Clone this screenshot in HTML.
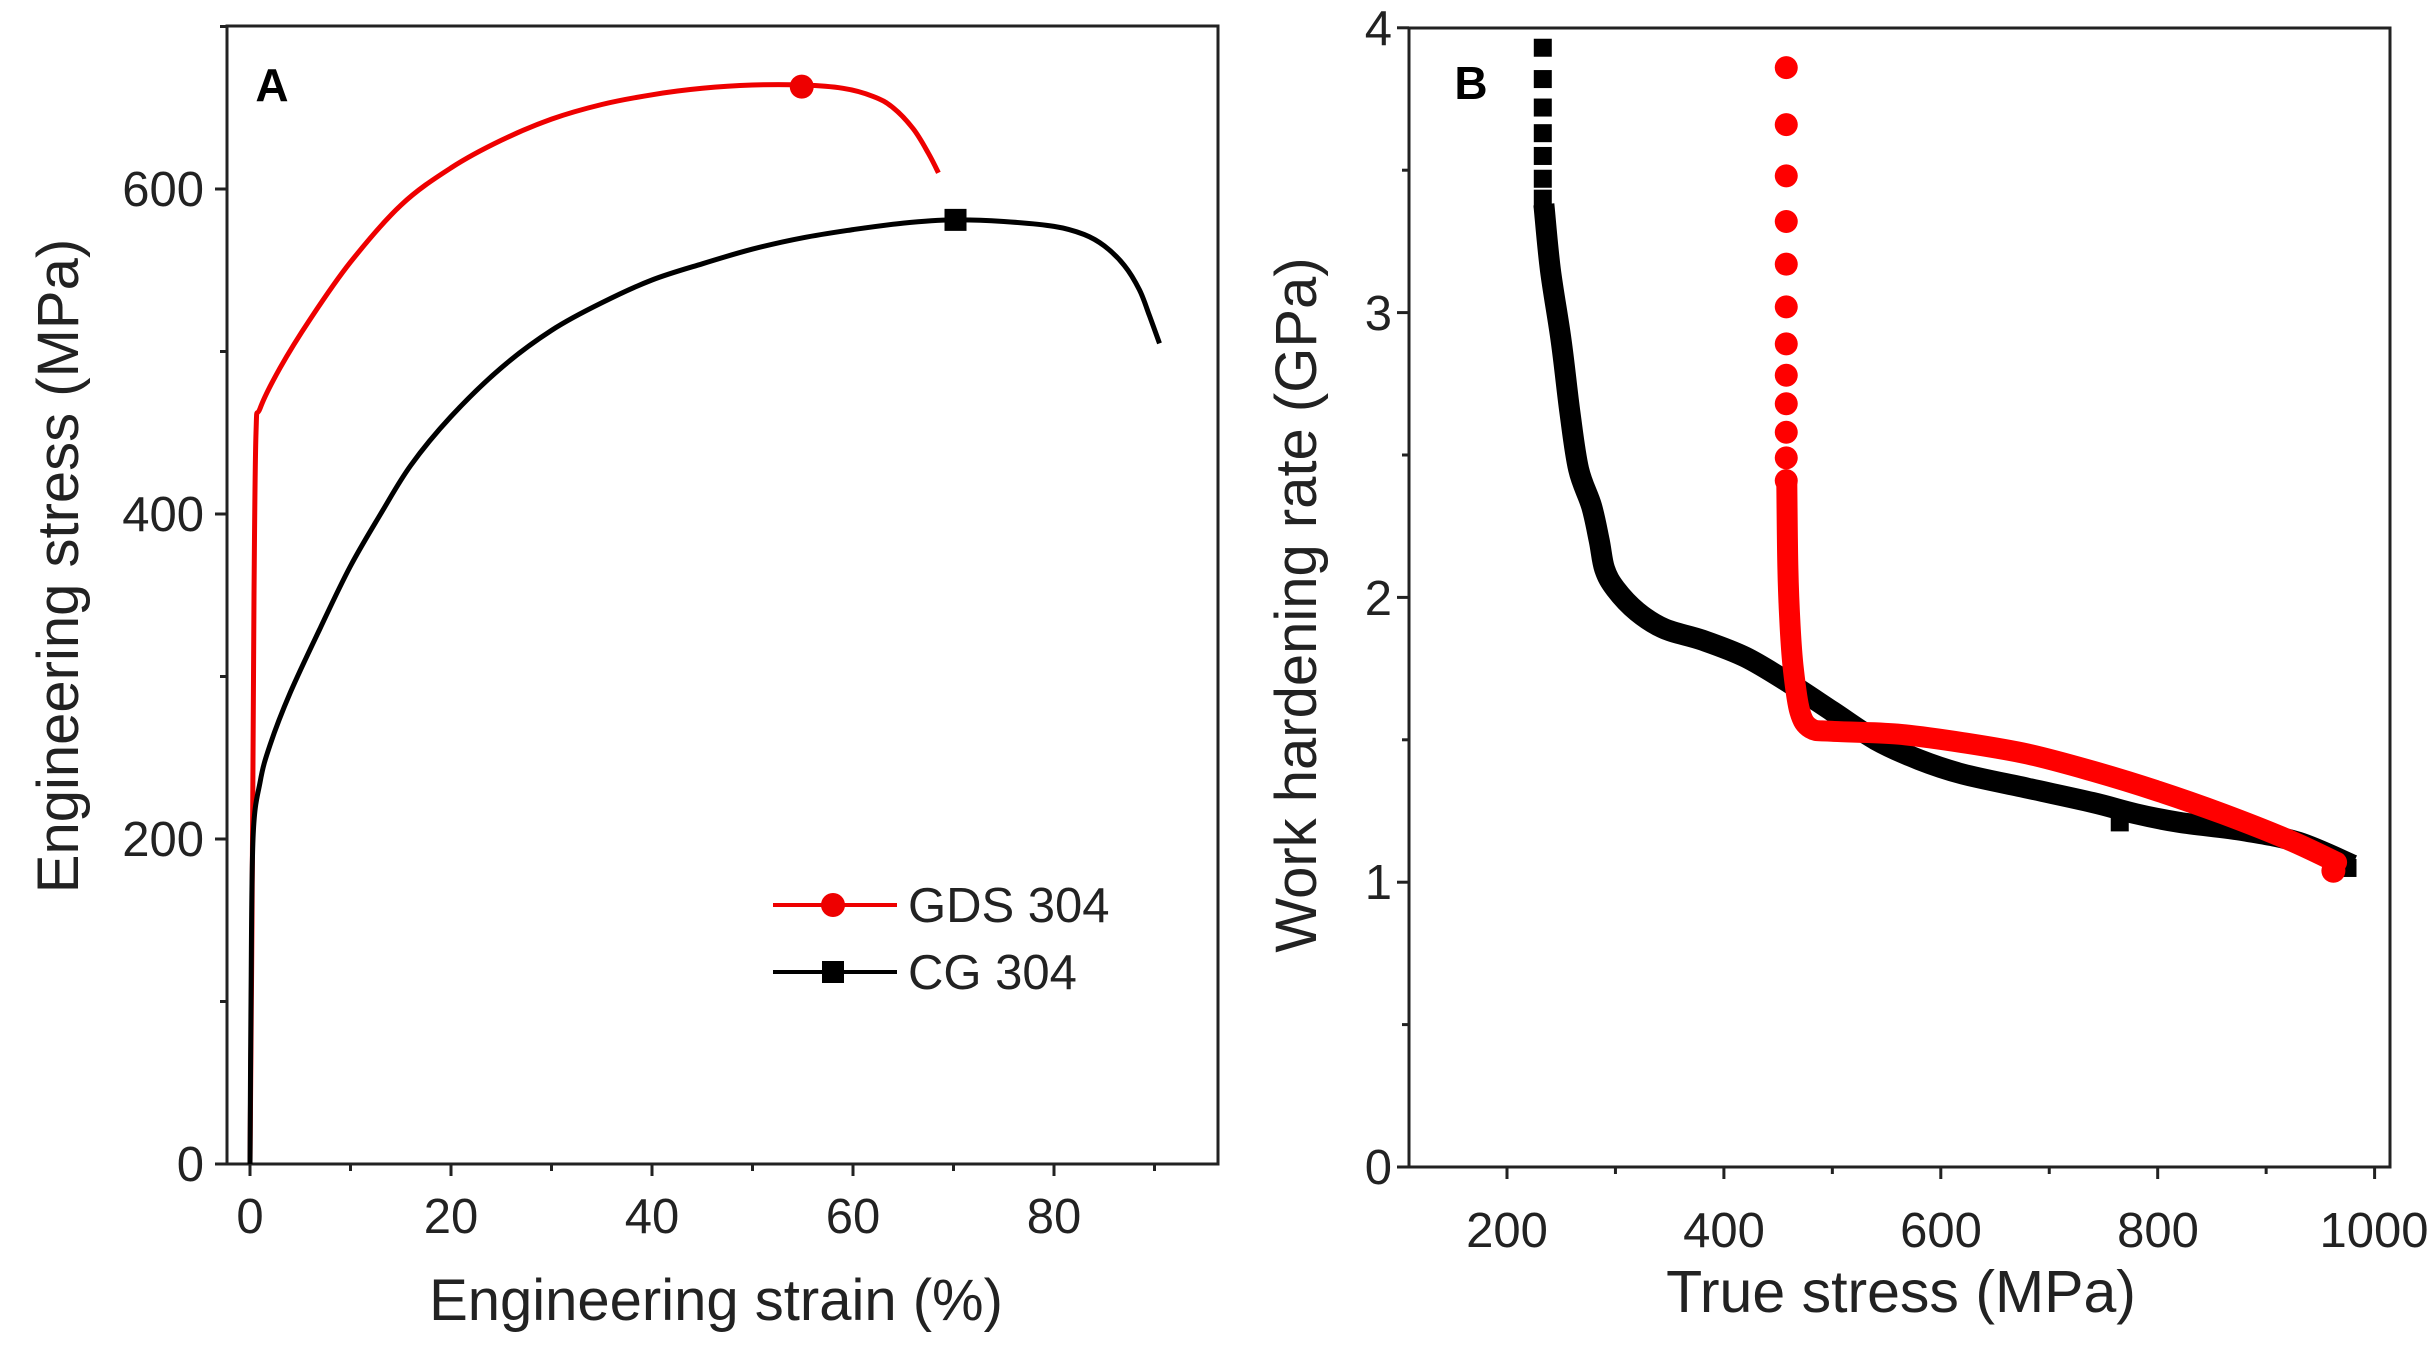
<!DOCTYPE html>
<html><head><meta charset="utf-8"><style>
html,body{margin:0;padding:0;background:#fff}
svg{display:block}
text{font-family:"Liberation Sans",Arial,sans-serif;fill:#222}
</style></head><body>
<svg id="s" width="2433" height="1355" viewBox="0 0 2433 1355" xmlns="http://www.w3.org/2000/svg">
<g id="g"></g>
<!-- Panel A text -->
<text x="272" y="101" font-size="46" font-weight="bold" text-anchor="middle" style="fill:#000">A</text>
<g font-size="49" text-anchor="end">
<text x="204" y="1181">0</text>
<text x="204" y="856">200</text>
<text x="204" y="531">400</text>
<text x="204" y="206">600</text>
</g>
<g font-size="49" text-anchor="middle">
<text x="250" y="1233">0</text>
<text x="451" y="1233">20</text>
<text x="652" y="1233">40</text>
<text x="853" y="1233">60</text>
<text x="1054" y="1233">80</text>
</g>
<text x="716" y="1320" font-size="58" text-anchor="middle">Engineering strain (%)</text>
<text transform="translate(78,566) rotate(-90)" font-size="58" text-anchor="middle">Engineering stress (MPa)</text>
<line x1="773" y1="905" x2="897" y2="905" stroke="#e00" stroke-width="4"/>
<circle cx="833" cy="905" r="12" fill="#e00"/>
<line x1="773" y1="972" x2="897" y2="972" stroke="#000" stroke-width="4"/>
<rect x="822" y="961" width="22" height="22" fill="#000"/>
<text x="908" y="922" font-size="49">GDS 304</text>
<text x="908" y="989" font-size="49">CG 304</text>
<!-- Panel B text -->
<text x="1471" y="99" font-size="46" font-weight="bold" text-anchor="middle" style="fill:#000">B</text>
<g font-size="49" text-anchor="end">
<text x="1392" y="1184">0</text>
<text x="1392" y="899">1</text>
<text x="1392" y="615">2</text>
<text x="1392" y="330">3</text>
<text x="1392" y="45">4</text>
</g>
<g font-size="49" text-anchor="middle">
<text x="1507" y="1247">200</text>
<text x="1724" y="1247">400</text>
<text x="1941" y="1247">600</text>
<text x="2158" y="1247">800</text>
<text x="2374" y="1247">1000</text>
</g>
<text x="1901" y="1312" font-size="59" text-anchor="middle">True stress (MPa)</text>
<text transform="translate(1316,605) rotate(-90)" font-size="58" text-anchor="middle">Work hardening rate (GPa)</text>
</svg>
<script>
var g=document.getElementById('g'),NS='http://www.w3.org/2000/svg';
function el(t,a){var e=document.createElementNS(NS,t);for(var k in a)e.setAttribute(k,a[k]);g.appendChild(e);return e;}
el('rect',{x:227,y:26,width:991,height:1138,fill:'none',stroke:'#222','stroke-width':3});
var AX=function(s){return 250+s*10.05},AY=function(v){return 1164-v*1.625};
for(var s=0;s<=90;s+=10){el('line',{x1:AX(s),y1:1164,x2:AX(s),y2:1164+(s%20==0?12:7),stroke:'#222','stroke-width':3});}
for(var v=0;v<=700;v+=100){el('line',{x1:227,y1:AY(v),x2:227-(v%200==0?12:7),y2:AY(v),stroke:'#222','stroke-width':3});}
function pts(arr,fx,fy){return arr.map(function(p){return fx(p[0]).toFixed(1)+','+fy(p[1]).toFixed(1)}).join(' ')}
function smooth(arr,fx,fy){var p=arr.map(function(a){return [fx(a[0]),fy(a[1])]});var d='M'+p[0][0]+','+p[0][1];
for(var i=0;i<p.length-1;i++){var p0=p[i-1]||p[i],p1=p[i],p2=p[i+1],p3=p[i+2]||p2;
d+=' C'+(p1[0]+(p2[0]-p0[0])/6).toFixed(1)+','+(p1[1]+(p2[1]-p0[1])/6).toFixed(1)+' '+(p2[0]-(p3[0]-p1[0])/6).toFixed(1)+','+(p2[1]-(p3[1]-p1[1])/6).toFixed(1)+' '+p2[0].toFixed(1)+','+p2[1].toFixed(1);}return d;}
var red=[[0,0],[0.2,150],[0.4,350],[0.6,450],[1,465],[3,490],[6,520],[10,555],[15,590],[20,613],[25,630],[30,643],[35,652],[40,658],[45,662],[50,664],[55,664],[59,662],[62,657],[64,650],[66,637],[67.5,622],[68.5,610]];
var blk=[[0,0],[0.1,100],[0.3,200],[1,235],[2,258],[4,290],[7,330],[10,368],[13,400],[16,430],[20,460],[25,490],[30,513],[35,530],[40,544],[45,554],[50,563],[55,570],[60,575],[65,579],[70,581],[75,580],[80,577],[83,572],[85,565],[87,553],[88.5,538],[89.5,522],[90.5,505]];
el('path',{d:smooth(red,AX,AY),fill:'none',stroke:'#e00','stroke-width':5,'stroke-linejoin':'round'});
el('path',{d:smooth(blk,AX,AY),fill:'none',stroke:'#000','stroke-width':5,'stroke-linejoin':'round'});
el('circle',{cx:AX(54.9),cy:AY(663),r:12,fill:'#e00'});
el('rect',{x:AX(70.2)-11,y:AY(581)-11,width:22,height:22,fill:'#000'});
el('rect',{x:1409,y:28,width:981,height:1139,fill:'none',stroke:'#222','stroke-width':3});
var BX=function(v){return 1507+(v-200)*216.9/200},BY=function(q){return 1167-q*284.8};
for(var v=200;v<=1000;v+=100){el('line',{x1:BX(v),y1:1167,x2:BX(v),y2:1167+(v%200==0?12:7),stroke:'#222','stroke-width':3});}
for(var q=0;q<=4;q+=0.5){el('line',{x1:1409,y1:BY(q),x2:1409-(q%1==0?12:7),y2:BY(q),stroke:'#222','stroke-width':3});}
var bk=[[234,3.38],[240,3.15],[250,2.9],[258,2.65],[266,2.45],[278,2.32],[285,2.2],[290,2.1],[300,2.03],[320,1.95],[345,1.89],[380,1.85],[420,1.79],[460,1.7],[500,1.6],[540,1.5],[580,1.43],[620,1.38],[680,1.33],[740,1.28],[780,1.24],[820,1.21],[880,1.18],[930,1.14],[980,1.06]];
el('path',{d:smooth(bk,BX,BY),fill:'none',stroke:'#000','stroke-width':21,'stroke-linejoin':'round'});
[3.93,3.82,3.72,3.63,3.55,3.47,3.40].forEach(function(q){el('rect',{x:BX(233)-9,y:BY(q)-9,width:18,height:18,fill:'#000'});});
el('rect',{x:BX(975)-9,y:BY(1.05)-9,width:18,height:18,fill:'#000'});
el('rect',{x:BX(765)-9,y:BY(1.21)-9,width:18,height:18,fill:'#000'});
var rd=[[458,2.4],[459,2.1],[461,1.9],[464,1.75],[470,1.6],[480,1.54],[500,1.53],[560,1.52],[620,1.49],[680,1.45],[740,1.39],[800,1.32],[860,1.24],[920,1.15],[965,1.07]];
el('path',{d:smooth(rd,BX,BY),fill:'none',stroke:'#f00','stroke-width':21,'stroke-linejoin':'round','stroke-linecap':'round'});
[3.86,3.66,3.48,3.32,3.17,3.02,2.89,2.78,2.68,2.58,2.49,2.41].forEach(function(q){el('circle',{cx:BX(457.5),cy:BY(q),r:11.5,fill:'#f00'});});
el('circle',{cx:BX(962),cy:BY(1.04),r:12,fill:'#f00'});
</script>
</body></html>
